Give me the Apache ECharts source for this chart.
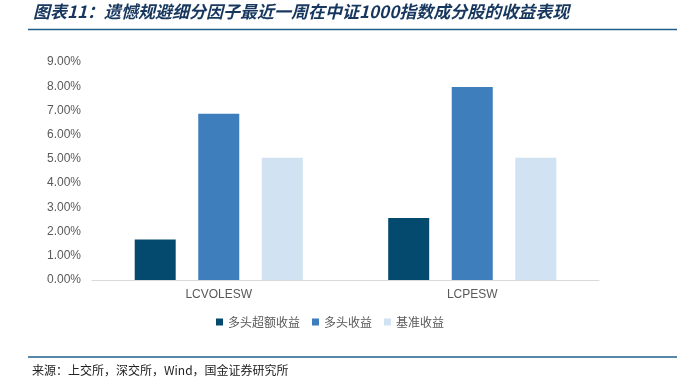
<!DOCTYPE html>
<html>
<head>
<meta charset="utf-8">
<script src="https://cdn.jsdelivr.net/npm/echarts@6/dist/echarts.min.js"></script>
<style>
  html, body { margin: 0; padding: 0; background: #fff; }
  #container { width: 677px; height: 379px; }
</style>
</head>
<body>
<div id="container"></div>
<script>
// 数据（单位：%）
var categories = ['LCVOLESW', 'LCPESW'];
var seriesNames = ['多头超额收益', '多头收益', '基准收益'];
var excessReturn = [1.67, 2.56];
var longReturn = [6.86, 7.97];
var benchReturn = [5.05, 5.05];
var colors = ['#044a6f', '#3f7ebd', '#d1e2f2'];

var dom = document.getElementById('container');
var myChart = echarts.init(dom);

var seriesData = [excessReturn, longReturn, benchReturn];
var series = seriesNames.map(function (name, i) {
    return {
        name: name,
        type: 'bar',
        data: seriesData[i],
        barWidth: 41,
        barGap: '55%',
        itemStyle: { color: colors[i] }
    };
});

var option = {
    animation: false,
    title: [
        {
            text: '图表11：遗憾规避细分因子最近一周在中证1000指数成分股的收益表现',
            left: 33,
            top: 3,
            padding: 0,
            textStyle: {
                fontFamily: 'Noto Sans CJK SC',
                fontSize: 17,
                fontStyle: 'italic',
                fontWeight: 'bold',
                color: '#17375e'
            }
        },
        {
            text: '来源：上交所，深交所，Wind，国金证券研究所',
            left: 32,
            top: 364,
            padding: 0,
            textStyle: {
                fontFamily: 'Noto Sans CJK SC',
                fontSize: 12,
                fontWeight: 'normal',
                color: '#222'
            }
        }
    ],
    graphic: [
        {
            type: 'line',
            shape: { x1: 28, y1: 29.5, x2: 677, y2: 29.5 },
            style: { stroke: '#1f5f8c', lineWidth: 1.5 }
        },
        {
            type: 'line',
            shape: { x1: 28, y1: 357, x2: 677, y2: 357 },
            style: { stroke: '#1f5f8c', lineWidth: 1.5 }
        }
    ],
    legend: {
        data: seriesNames,
        left: 216,
        top: 316,
        padding: 0,
        icon: 'rect',
        itemWidth: 7,
        itemHeight: 7,
        itemGap: 12,
        textStyle: {
            fontFamily: 'Noto Sans CJK SC',
            fontSize: 12,
            color: '#595959'
        }
    },
    grid: {
        left: 92,
        right: 78,
        top: 62,
        bottom: 99
    },
    xAxis: {
        type: 'category',
        data: categories,
        axisLine: { lineStyle: { color: '#d9d9d9' } },
        axisTick: { inside: true, length: 4, lineStyle: { color: '#d9d9d9' } },
        axisLabel: {
            margin: 9,
            fontFamily: 'Liberation Sans',
            fontSize: 12,
            color: '#595959'
        }
    },
    yAxis: {
        type: 'value',
        min: 0,
        max: 9,
        interval: 1,
        splitLine: { show: false },
        axisLine: { show: false },
        axisTick: { show: false },
        axisLabel: {
            margin: 11,
            fontFamily: 'Liberation Sans',
            fontSize: 12,
            color: '#595959',
            formatter: function (v) { return v.toFixed(2) + '%'; }
        }
    },
    series: series
};
myChart.setOption(option);
</script>
</body>
</html>
